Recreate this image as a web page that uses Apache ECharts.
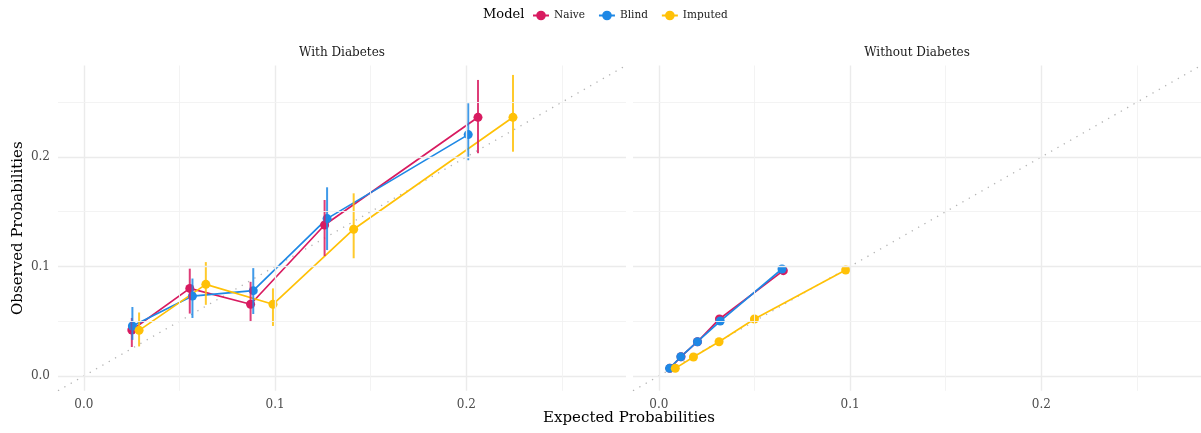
<!DOCTYPE html>
<html>
<head>
<meta charset="utf-8">
<script src="https://cdn.jsdelivr.net/npm/echarts@6/dist/echarts.min.js"></script>
<style>html,body{margin:0;padding:0;background:#fff}#c{width:1201px;height:433px}</style>
</head>
<body>
<div id="c"></div>
<script>
// ---- data ----
const models = ['Naive', 'Blind', 'Imputed'];
const panels = ['With Diabetes', 'Without Diabetes'];
const axisMin = -0.0135, axisMax = 0.2835;
const majorTicks = [0, 0.1, 0.2];
const minorTicks = [0.05, 0.15, 0.25];

// With Diabetes
const naiveWithX = [0.0251, 0.0554, 0.0872, 0.1259, 0.2061];
const naiveWithY = [0.0420, 0.0800, 0.0655, 0.1379, 0.2362];
const naiveWithLo = [0.0265, 0.0570, 0.0500, 0.1096, 0.2034];
const naiveWithHi = [0.0530, 0.0980, 0.0860, 0.1607, 0.2703];
const blindWithX = [0.0254, 0.0568, 0.0886, 0.1272, 0.2010];
const blindWithY = [0.0457, 0.0730, 0.0779, 0.1437, 0.2204];
const blindWithLo = [0.0330, 0.0530, 0.0566, 0.1150, 0.1970];
const blindWithHi = [0.0630, 0.0890, 0.0985, 0.1723, 0.2490];
const imputedWithX = [0.0289, 0.0638, 0.0989, 0.1411, 0.2244];
const imputedWithY = [0.0417, 0.0837, 0.0655, 0.1340, 0.2362];
const imputedWithLo = [0.0270, 0.0650, 0.0457, 0.1075, 0.2048];
const imputedWithHi = [0.0580, 0.1040, 0.0800, 0.1668, 0.2749];

// Without Diabetes
const naiveWithoutX = [0.0058, 0.0116, 0.0202, 0.0317, 0.0651];
const naiveWithoutY = [0.0070, 0.0176, 0.0313, 0.0521, 0.0962];
const blindWithoutX = [0.0056, 0.0115, 0.0202, 0.0321, 0.0644];
const blindWithoutY = [0.0070, 0.0176, 0.0313, 0.0502, 0.0977];
const imputedWithoutX = [0.0086, 0.0181, 0.0315, 0.0500, 0.0977];
const imputedWithoutY = [0.0070, 0.0174, 0.0313, 0.0521, 0.0968];

const colors = {Naive: '#D81B60', Blind: '#1E88E5', Imputed: '#FFC107'};
const FONT = 'DejaVu Serif';

const zip = (a, b) => a.map((v, i) => [v, b[i]]);
const zip3 = (a, b, c) => a.map((v, i) => [v, b[i], c[i]]);

const withData = {
  Naive: {x: naiveWithX, y: naiveWithY, lo: naiveWithLo, hi: naiveWithHi},
  Blind: {x: blindWithX, y: blindWithY, lo: blindWithLo, hi: blindWithHi},
  Imputed: {x: imputedWithX, y: imputedWithY, lo: imputedWithLo, hi: imputedWithHi}
};
const withoutData = {
  Naive: {x: naiveWithoutX, y: naiveWithoutY},
  Blind: {x: blindWithoutX, y: blindWithoutY},
  Imputed: {x: imputedWithoutX, y: imputedWithoutY}
};

function gridLines() {
  const d = [];
  majorTicks.forEach(v => {
    d.push({xAxis: v, lineStyle: {color: '#ebebeb', width: 1.4, type: 'solid'}});
    d.push({yAxis: v, lineStyle: {color: '#ebebeb', width: 1.4, type: 'solid'}});
  });
  minorTicks.forEach(v => {
    d.push({xAxis: v, lineStyle: {color: '#f2f2f2', width: 0.9, type: 'solid'}});
    d.push({yAxis: v, lineStyle: {color: '#f2f2f2', width: 0.9, type: 'solid'}});
  });
  return d;
}

const series = [];
[0, 1].forEach(p => {
  series.push({
    type: 'line', xAxisIndex: p, yAxisIndex: p, silent: true, z: 1,
    data: [[axisMin, axisMin], [axisMax, axisMax]],
    symbol: 'none',
    lineStyle: {color: '#b3b3b3', width: 1.3, type: [1.3, 6]},
    markLine: {silent: true, symbol: 'none', label: {show: false}, animation: false, data: gridLines()},
    tooltip: {show: false}
  });
});

models.forEach(m => {
  const d = withData[m];
  series.push({
    name: m, type: 'line', xAxisIndex: 0, yAxisIndex: 0, z: 3,
    data: zip(d.x, d.y), symbol: 'circle', symbolSize: 9,
    itemStyle: {color: colors[m], borderWidth: 0}, lineStyle: {color: colors[m], width: 1.7}
  });
  series.push({
    type: 'custom', xAxisIndex: 0, yAxisIndex: 0, z: 4,
    data: zip3(d.x, d.lo, d.hi),
    renderItem: function (params, api) {
      const a = api.coord([api.value(0), api.value(1)]);
      const b = api.coord([api.value(0), api.value(2)]);
      return {type: 'line', shape: {x1: a[0], y1: a[1], x2: b[0], y2: b[1]},
        style: {stroke: colors[m], lineWidth: 2, opacity: 0.85}};
    }
  });
});
models.forEach(m => {
  const d = withoutData[m];
  series.push({
    name: m, type: 'line', xAxisIndex: 1, yAxisIndex: 1, z: 3,
    data: zip(d.x, d.y), symbol: 'circle', symbolSize: 9,
    itemStyle: {color: colors[m], borderWidth: 0}, lineStyle: {color: colors[m], width: 1.7}
  });
});

function xAxis(i) {
  return {
    type: 'value', gridIndex: i, min: axisMin, max: axisMax,
    axisLine: {show: false}, axisTick: {show: false}, splitLine: {show: false},
    axisLabel: {customValues: majorTicks, formatter: v => v.toFixed(1), color: '#4d4d4d',
      fontFamily: FONT, fontSize: 12, margin: 8}
  };
}
function yAxis(i) {
  return {
    type: 'value', gridIndex: i, min: axisMin, max: axisMax,
    axisLine: {show: false}, axisTick: {show: false}, splitLine: {show: false},
    axisLabel: {show: i === 0, customValues: majorTicks, formatter: v => v.toFixed(1), color: '#4d4d4d',
      fontFamily: FONT, fontSize: 12, margin: 8},
    name: i === 0 ? 'Observed Probabilities' : '', nameLocation: 'middle', nameGap: 32,
    nameTextStyle: {fontFamily: FONT, fontSize: 15, color: '#000'}
  };
}

const option = {
  animation: false,
  color: models.map(m => colors[m]),
  title: [
    {text: 'Model', left: 483, top: 8, padding: 0, textStyle: {fontFamily: FONT, fontSize: 13, fontWeight: 'normal', color: '#000'}},
    {text: panels[0], left: 342, top: 47, padding: 0, textAlign: 'center', textStyle: {fontFamily: FONT, fontSize: 12, fontWeight: 'normal', color: '#1a1a1a'}},
    {text: panels[1], left: 917, top: 47, padding: 0, textAlign: 'center', textStyle: {fontFamily: FONT, fontSize: 12, fontWeight: 'normal', color: '#1a1a1a'}},
    {text: 'Expected Probabilities', left: 629, top: 411, padding: 0, textAlign: 'center', textStyle: {fontFamily: FONT, fontSize: 15, fontWeight: 'normal', color: '#000'}}
  ],
  legend: {
    data: models, left: 532, top: 10, padding: 0, itemWidth: 16, itemHeight: 12, itemGap: 13,
    itemStyle: {borderWidth: 0},
    textStyle: {fontFamily: FONT, fontSize: 10.5, color: '#1a1a1a'}
  },
  grid: [
    {left: 58, top: 65.5, width: 568, height: 325.3},
    {left: 633, top: 65.5, width: 568, height: 325.3}
  ],
  xAxis: [xAxis(0), xAxis(1)],
  yAxis: [yAxis(0), yAxis(1)],
  series: series
};

const chart = echarts.init(document.getElementById('c'), null, {renderer: 'canvas'});
chart.setOption(option);
</script>
</body>
</html>
